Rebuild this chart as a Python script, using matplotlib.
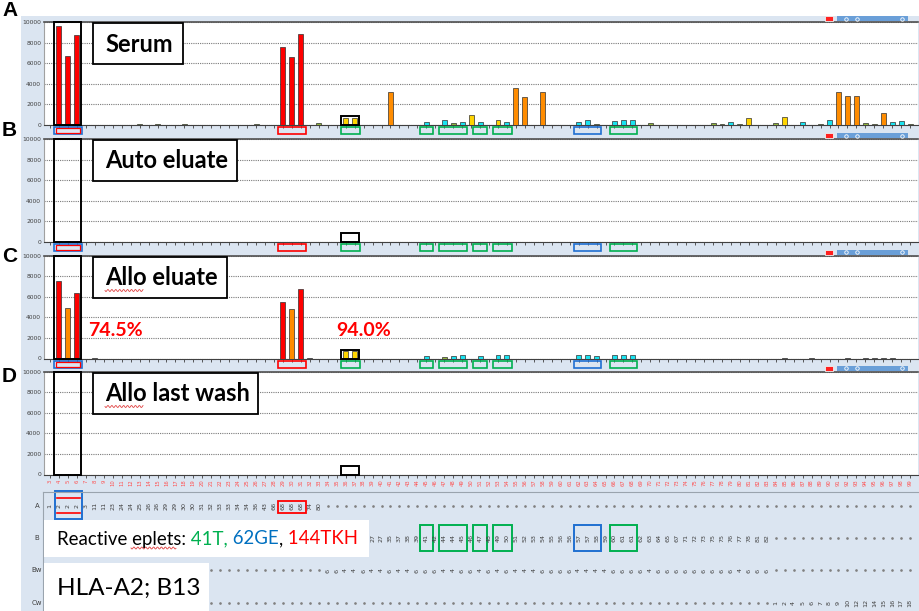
import numpy as np
import matplotlib
matplotlib.use("Agg")
import matplotlib.pyplot as plt
from matplotlib.patches import Rectangle
from matplotlib.transforms import blended_transform_factory

# ---- data: single antigen bead panel (97 beads) ----
bead_labels = [str(k) for k in range(3, 100)]

serum_idx = [1, 2, 3, 10, 12, 15, 23, 26, 27, 28,
             30, 33, 34, 38, 42, 44, 45, 46, 47, 48,
             50, 51, 52, 53, 55, 59, 60, 61, 63, 64,
             65, 67, 74, 75, 76, 77, 78, 81, 82, 84,
             86, 87, 88, 89, 90, 91, 92, 93, 94, 95, 96]
serum_val = [9600, 6700, 8700, 100, 60, 50, 50, 7600, 6600, 8800,
             200, 700, 700, 3200, 330, 480, 150, 300, 970, 300,
             500, 300, 3600, 2750, 3200, 300, 450, 100, 350, 450,
             500, 150, 150, 50, 300, 50, 650, 150, 750, 300,
             50, 450, 3250, 2850, 2850, 150, 50, 1150, 300, 350, 100]
serum_col = "rrrggggrrr" "gyyoccgcyc" "ycoooccgcc" "cgggcgygyc" "gcoooggocc" "g"

auto_idx = [0, 1, 2, 3, 5, 22, 30]
auto_val = [40, 60, 50, 40, 40, 40, 30]
auto_col = "kkkkkkk"

allo_idx = [1, 2, 3, 5, 26, 27, 28, 29, 33, 34,
            42, 44, 45, 46, 48, 50, 51, 59, 60, 61,
            63, 64, 65, 82, 85, 89, 91, 92, 93, 94]
allo_val = [7500, 4900, 6400, 60, 5500, 4800, 6750, 60, 750, 750,
            200, 100, 200, 300, 200, 300, 300, 300, 300, 200,
            300, 300, 350, 40, 40, 40, 40, 40, 40, 40]
allo_col = "rorkrorkyy" "cgcccccccc" "ccc" "kkkkkkk"

wash_idx = [1, 2, 3]
wash_val = [20, 20, 20]
wash_col = "kkk"

pct_labels = ["74.5%", "94.0%"]

# bead groups carrying the reactive eplets (first, last bead, colour)
eplet_groups = [(1, 3, "br"), (26, 28, "r"), (33, 34, "g"), (42, 42, "g"), (44, 46, "g"),
                (48, 48, "g"), (50, 51, "g"), (59, 61, "b"), (63, 65, "g")]

# HLA specificities listed under the beads (visible part of each row)
hla_a = [1, 2, 2, 2, 3, 11, 11, 23, 24, 24, 25, 26, 26, 29, 29, 30, 30, 31, 32, 33, 33,
         34, 34, 36, 43, 66, 68, 68, 68, 74, 80]
hla_b = [27, 27, 35, 37, 38, 39, 41, 42, 44, 44, 45, 46, 47, 48, 49,
         50, 51, 52, 53, 54, 55, 56, 56, 57, 57, 58, 59, 60, 61, 61, 62, 63, 64, 65, 67,
         71, 72, 73, 75, 75, 76, 77, 78, 81, 82]
hla_bw = [6, 6, 4, 4, 6, 4, 4, 6, 4, 4, 6, 6, 6, 4, 4, 6, 6, 4, 6, 4,
          6, 4, 4, 4, 6, 6, 6, 6, 4, 4, 4, 4, 6, 6, 6, 6, 4, 6, 6, 6,
          6, 6, 6, 6, 6, 6, 4, 6, 6, 6]
hla_cw = [1, 2, 4, 5, 6, 7, 8, 9, 10, 12, 12, 14, 15, 16, 17, 18]
row_names = ["A", "B", "Bw", "Cw"]
row_start = [0, 36, 31, 81]
row_span = [(0, 31), (31, 81), (31, 81), (81, 97)]

# ---- styling ----
W, H = 920, 611
LIGHT = "#dbe5f1"
bar_colors = {"r": "#ff0000", "o": "#ff8c00", "y": "#ffd400", "c": "#19e3f0",
              "g": "#8fb43a", "k": "#606060"}
box_colors = {"r": "#ff0000", "g": "#00b050", "b": "#1f6fd1"}
n_beads = len(bead_labels)
x_lo = (44 - 50) / 8.96
x_hi = (918 - 50) / 8.96

fig = plt.figure(figsize=(W / 100, H / 100), dpi=100)


def px_axes(x0, y0, x1, y1, z=1):
    return fig.add_axes([x0 / W, 1 - y1 / H, (x1 - x0) / W, (y1 - y0) / H], zorder=z)


bg = px_axes(0, 0, W, H, z=0)
bg.set_xlim(0, W)
bg.set_ylim(H, 0)
bg.axis("off")
bg.add_patch(Rectangle((21, 16), W - 21, H - 16, color=LIGHT, lw=0))

ov = px_axes(0, 0, W, H, z=10)
ov.set_xlim(0, W)
ov.set_ylim(H, 0)
ov.axis("off")


def squiggle(x0, x1, y):
    xs = np.linspace(x0, x1, 80)
    ov.plot(xs, y + 1.0 * np.sin((xs - x0) * 1.6), color="#e04040", lw=0.6)


panels = [("A", "Serum", serum_idx, serum_val, serum_col, 22, 183, 10),
          ("B", "Auto eluate", auto_idx, auto_val, auto_col, 139, 237, 131),
          ("C", "Allo eluate", allo_idx, allo_val, allo_col, 255.5, 227, 257),
          ("D", "Allo last wash", wash_idx, wash_val, wash_col, 371.5, 258, 376)]

for k, (letter, title, idx, val, col, top, box_r, lab_y) in enumerate(panels):
    ax = px_axes(44, top, 918, top + 103, z=2)
    ax.set_xlim(x_lo, x_hi)
    ax.set_ylim(0, 10000)
    ax.bar(idx, val, width=0.55, color=[bar_colors[c] for c in col],
           edgecolor="#303030", linewidth=0.5, zorder=3)
    ax.set_yticks(range(0, 10001, 2000))
    ax.set_yticklabels([str(v) for v in range(0, 10001, 2000)], fontsize=4.3, color="#404040")
    ax.tick_params(axis="y", length=0, pad=2)
    ax.yaxis.grid(True, linestyle=(0, (1, 1)), color="#7a7a7a", lw=0.8)
    ax.set_axisbelow(True)
    ax.set_xticks(range(n_beads))
    ax.tick_params(axis="x", length=2.5, width=0.6, color="#404040", direction="out")
    if letter == "D":
        ax.set_xticklabels(bead_labels, rotation=90, fontsize=3.8, color="#ff5050")
        ax.tick_params(axis="x", pad=1)
    else:
        ax.set_xticklabels([])
    ax.spines["right"].set_visible(False)
    ax.spines["left"].set_color("#a0a0a0")
    ax.spines["top"].set_color("#505050")
    ax.spines["top"].set_linewidth(1.2)
    ax.spines["bottom"].set_color("#404040")

    # black frames: A2 beads and the two yellow beads
    ax.add_patch(Rectangle((0.5, 0), 3.0, 10000, fill=False, ec="black", lw=1.4,
                           clip_on=False, zorder=5))
    ax.add_patch(Rectangle((32.5, 0), 2.0, 850, fill=False, ec="black", lw=1.4,
                           clip_on=False, zorder=5))

    # coloured frames under the bars
    if letter != "D":
        tr = blended_transform_factory(ax.transData, ax.transAxes)
        for j0, j1, c in eplet_groups:
            pad = 0.55 if j1 > j0 else 0.75
            ax.add_patch(Rectangle((j0 - pad, -0.088), j1 - j0 + 2 * pad, 0.068,
                                   transform=tr, fill=False, ec=box_colors[c[0]],
                                   lw=1.2, clip_on=False, zorder=5))
            if c == "br":
                ax.add_patch(Rectangle((j0 - pad + 0.2, -0.078), j1 - j0 + 2 * pad - 0.4, 0.048,
                                       transform=tr, fill=False, ec="#ff0000",
                                       lw=0.9, clip_on=False, zorder=5))

    if letter == "C":
        for (jx, txt) in zip([4.2, 32.0], pct_labels):
            ax.text(jx, 2750, txt, color="#ff0000", fontsize=14, fontweight="bold",
                    family="Lato", va="center", ha="left", zorder=6)

    # title box
    ov.add_patch(Rectangle((93, top + 1), box_r - 93, 41, facecolor="white",
                           edgecolor="black", lw=1.3))
    ov.text(105, top + 22, title, fontsize=17, fontweight="bold", family="Lato",
            va="center", ha="left")
    if title.startswith("Allo"):
        squiggle(105, 143, top + 35)

    # panel letter
    ov.text(2, lab_y, letter, fontsize=15, fontweight="bold", family="Liberation Sans",
            va="center", ha="left")

    # little toolbar at top right of each panel
    ov.add_patch(Rectangle((825, top - 6), 8, 5, facecolor="#ff2020", edgecolor="#f0f0f0", lw=0.6))
    ov.add_patch(Rectangle((837, top - 6), 71, 5, facecolor="#6a9fd8", lw=0))
    for cx in (846, 857, 902):
        ov.plot(cx, top - 3.5, marker="o", ms=2.5, mfc="none", mec="white", mew=0.6)

# ---- specificity table ----
tb = px_axes(43, 492, 920, 611, z=3)
tb.set_facecolor(LIGHT)
tb.set_xlim((43 - 50) / 8.96, (920 - 50) / 8.96)
tb.set_ylim(3.25, -0.42)
tb.set_xticks([])
tb.set_yticks([])
for s in ["right", "bottom"]:
    tb.spines[s].set_visible(False)
for s in ["top", "left"]:
    tb.spines[s].set_color("#9aa4ae")

rows = [hla_a, hla_b, hla_bw, hla_cw]
for r, (vals, start, span) in enumerate(zip(rows, row_start, row_span)):
    for j, v in enumerate(vals):
        tb.text(start + j, r, str(v), rotation=90, fontsize=4.6, color="#404040",
                ha="center", va="center")
    empty = [j for j in range(n_beads) if not (span[0] <= j < span[1])]
    tb.plot(empty, [r] * len(empty), linestyle="none", marker="o", ms=0.9, color="#808080")
    tb.text(-1.45, r, row_names[r], fontsize=5, color="#404040", ha="center", va="center",
            clip_on=False)

# frames in the table
tb.add_patch(Rectangle((0.55, -0.44), 3.0, 0.86, fill=False, ec=box_colors["b"], lw=1.4, clip_on=False))
for yy in (-0.22, 0.22):
    tb.plot([0.75, 3.35], [yy, yy], color="#ff0000", lw=1.2)
tb.add_patch(Rectangle((25.5, -0.14), 3.05, 0.37, fill=False, ec="#ff0000", lw=1.3))
for j0, j1, c in eplet_groups[3:]:
    pad = 0.55 if j1 > j0 else 0.75
    tb.add_patch(Rectangle((j0 - pad, 0.61), j1 - j0 + 2 * pad, 0.78, fill=False,
                           ec=box_colors[c], lw=1.4))

# text boxes on the table
ov.add_patch(Rectangle((44, 520), 325, 37, facecolor="white", lw=0))
pieces = [("Reactive eplets:", "black"), (" 41T,", "#00b050"), (" 62GE", "#0070c0"),
          (",", "black"), (" 144TKH", "#ff0000")]
prev = ov.text(57, 539, pieces[0][0], fontsize=13.4, family="Lato", color=pieces[0][1],
               va="center", ha="left")
for txt, c in pieces[1:]:
    prev = ov.annotate(txt, xy=(1, 0), xycoords=prev, fontsize=13.4, family="Lato",
                       color=c, va="bottom", ha="left")
squiggle(131, 176, 548)

ov.add_patch(Rectangle((44, 563), 165, 48, facecolor="white", lw=0))
ov.text(57, 588, "HLA-A2; B13", fontsize=17.5, family="Lato", va="center", ha="left")

fig.savefig("out.png", dpi=100)
